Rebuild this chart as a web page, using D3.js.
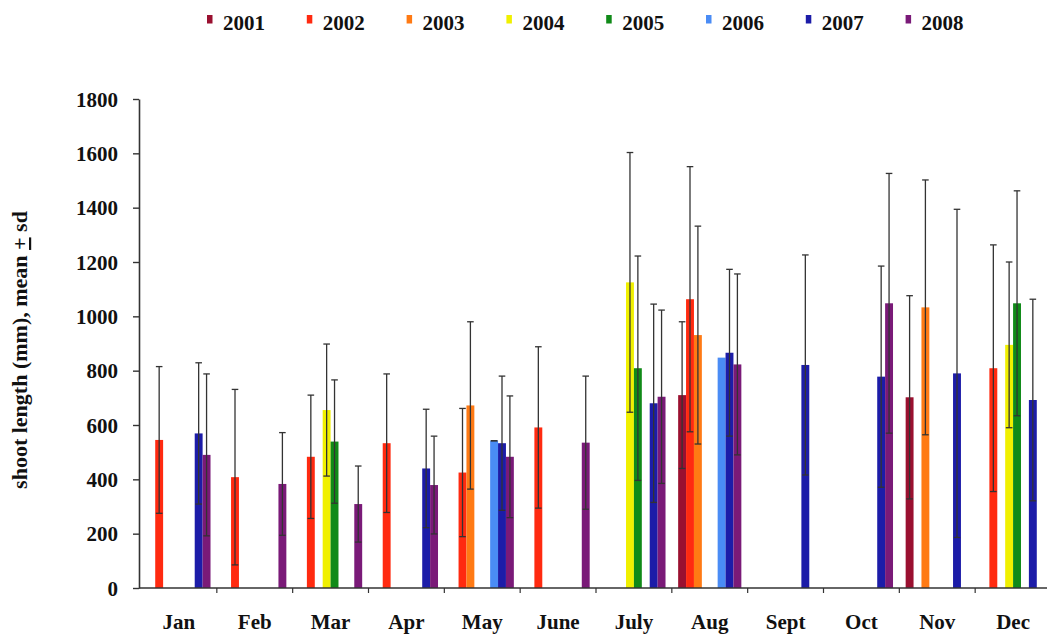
<!DOCTYPE html>
<html>
<head>
<meta charset="utf-8">
<script src="https://cdn.jsdelivr.net/npm/d3@7"></script>
<style>
  html, body { margin: 0; padding: 0; background: #fff; }
  svg { display: block; }
  text { font-family: "Liberation Serif", "Times New Roman", serif; font-weight: bold; fill: #111; }
</style>
</head>
<body>
<svg id="chart" width="1047" height="637"></svg>
<script>
// ---- data ----
const months = ["Jan", "Feb", "Mar", "Apr", "May", "June", "July", "Aug", "Sept", "Oct", "Nov", "Dec"];
const years = ["2001", "2002", "2003", "2004", "2005", "2006", "2007", "2008"];
const yTicks = [0, 200, 400, 600, 800, 1000, 1200, 1400, 1600, 1800];
const colors = ["#9a1030", "#ff2a10", "#ff7a14", "#f0f000", "#108a18", "#4a8cf5", "#1c1ca8", "#7a1a78"];

// means per year, Jan..Dec (null = no data)
const mean2001 = [null, null, null, null, null, null, null, 710, null, null, 702, null];
const mean2002 = [545, 408, 483, 533, 425, 591, null, 1063, null, null, null, 809];
const mean2003 = [null, null, null, null, 672, null, null, 931, null, null, 1033, null];
const mean2004 = [null, null, 655, null, null, null, 1125, null, null, null, null, 895];
const mean2005 = [null, null, 539, null, null, null, 809, null, null, null, null, 1048];
const mean2006 = [null, null, null, null, 542, null, null, 848, null, null, null, null];
const mean2007 = [569, null, null, 440, 533, null, 680, 866, 821, 778, 790, 692];
const mean2008 = [490, 383, 309, 379, 483, 535, 704, 823, null, 1048, null, null];

// standard deviations per year, Jan..Dec
const sd2001 = [null, null, null, null, null, null, null, 270, null, null, 374, null];
const sd2002 = [270, 323, 227, 255, 236, 297, null, 488, null, null, null, 454];
const sd2003 = [null, null, null, null, 308, null, null, 401, null, null, 469, null];
const sd2004 = [null, null, 243, null, null, null, 478, null, null, null, null, 305];
const sd2005 = [null, null, 227, null, null, null, 413, null, null, null, null, 414];
const sd2006 = [null, null, null, null, 0, null, null, null, null, null, null, null];
const sd2007 = [260, null, null, 218, 247, null, 365, 307, 405, 407, 604, 371];
const sd2008 = [298, 189, 140, 180, 224, 245, 319, 333, null, 478, null, null];

const means = [mean2001, mean2002, mean2003, mean2004, mean2005, mean2006, mean2007, mean2008];
const sds = [sd2001, sd2002, sd2003, sd2004, sd2005, sd2006, sd2007, sd2008];

// ---- build records ----
const records = [];
years.forEach((yr, i) => {
  months.forEach((m, j) => {
    if (means[i][j] != null) records.push({ year: yr, month: m, value: means[i][j], sd: sds[i][j], color: colors[i] });
  });
});

// ---- layout ----
const svg = d3.select("#chart");
const x0 = d3.scaleBand().domain(months).range([141, 1051]).paddingInner(0).paddingOuter(0);
const x1 = d3.scaleBand().domain(years).range([0, x0.bandwidth()]).paddingInner(0).paddingOuter(0.8);
const y = d3.scaleLinear().domain([0, 1800]).range([588, 99]);

// bars
svg.append("g").selectAll("rect").data(records).join("rect")
  .attr("x", d => x0(d.month) + x1(d.year))
  .attr("width", x1.bandwidth())
  .attr("y", d => y(d.value))
  .attr("height", d => y(0) - y(d.value))
  .attr("fill", d => d.color);

// error bars
const cx = d => x0(d.month) + x1(d.year) + x1.bandwidth() / 2;
const eb = svg.append("g").attr("stroke", "#333").attr("stroke-width", 1.3);
const withSd = records.filter(d => d.sd != null);
eb.selectAll("line.v").data(withSd).join("line").attr("class", "v")
  .attr("x1", cx).attr("x2", cx)
  .attr("y1", d => y(Math.max(0, d.value - d.sd)))
  .attr("y2", d => y(d.value + d.sd));
eb.selectAll("line.t").data(withSd).join("line").attr("class", "t")
  .attr("x1", d => cx(d) - 3.3).attr("x2", d => cx(d) + 3.3)
  .attr("y1", d => y(d.value + d.sd)).attr("y2", d => y(d.value + d.sd));
eb.selectAll("line.b").data(withSd).join("line").attr("class", "b")
  .attr("x1", d => cx(d) - 3.3).attr("x2", d => cx(d) + 3.3)
  .attr("y1", d => y(Math.max(0, d.value - d.sd))).attr("y2", d => y(Math.max(0, d.value - d.sd)));

// y axis
const yAxis = svg.append("g").attr("transform", "translate(139,0)")
  .call(d3.axisLeft(y).tickValues(yTicks).tickFormat(d3.format("d")).tickSize(6).tickSizeOuter(0).tickPadding(15));
yAxis.attr("font-family", null).attr("font-size", null);
yAxis.select(".domain").attr("stroke", "#333").attr("stroke-width", 1.6);
yAxis.selectAll(".tick line").attr("stroke", "#333").attr("stroke-width", 1.4);
yAxis.selectAll(".tick text")
  .style("font-family", "'Liberation Serif', 'Times New Roman', serif")
  .style("font-size", "21px").style("font-weight", "bold").style("fill", "#111")
  .attr("dy", "0.34em");

// x axis
const xg = svg.append("g");
xg.append("line").attr("x1", x0.range()[0] - 2).attr("x2", x0.range()[1]).attr("y1", y(0)).attr("y2", y(0))
  .attr("stroke", "#333").attr("stroke-width", 1.6);
xg.selectAll("line.tk").data(months.slice(1)).join("line").attr("class", "tk")
  .attr("x1", d => x0(d)).attr("x2", d => x0(d))
  .attr("y1", y(0)).attr("y2", y(0) + 5)
  .attr("stroke", "#333").attr("stroke-width", 1.2);
xg.selectAll("text").data(months).join("text")
  .attr("x", d => x0(d) + x0.bandwidth() / 2)
  .attr("y", 629)
  .attr("text-anchor", "middle")
  .style("font-size", "21px")
  .text(d => d);

// y axis title
const yt = svg.append("text")
  .attr("transform", "translate(27,350) rotate(-90)")
  .attr("text-anchor", "middle")
  .style("font-size", "22px");
yt.append("tspan").text("shoot length (mm), mean ");
yt.append("tspan").attr("text-decoration", "underline").text("+");
yt.append("tspan").text(" sd");

// legend
const lg = svg.append("g").selectAll("g").data(years).join("g")
  .attr("transform", (d, i) => `translate(${207 + i * 99.8},0)`);
lg.append("rect").attr("x", 0).attr("y", 15).attr("width", 5.5).attr("height", 8.5)
  .attr("fill", (d, i) => colors[i]);
lg.append("text").attr("x", 16).attr("y", 29.5).style("font-size", "21px").text(d => d);
</script>
</body>
</html>
